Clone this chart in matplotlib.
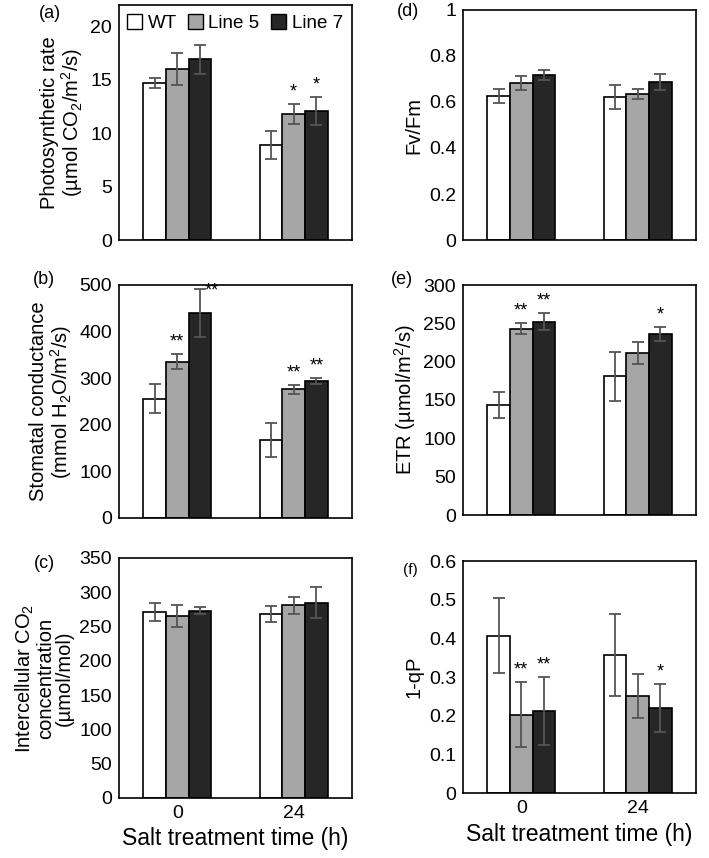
import numpy as np
import matplotlib
matplotlib.use("Agg")
import matplotlib.pyplot as plt
from matplotlib.patches import Patch

plt.rcParams['font.family'] = ['Liberation Sans', 'DejaVu Sans']
plt.rcParams['mathtext.fontset'] = 'custom'
plt.rcParams['mathtext.rm'] = 'Liberation Sans'
plt.rcParams['mathtext.it'] = 'Liberation Sans:italic'
plt.rcParams['mathtext.default'] = 'regular'

# data
times = ['0', '24']
lines = ['WT', 'Line 5', 'Line 7']
colors = ['#ffffff', '#a6a6a6', '#262626']

photo_mean = [[14.7, 8.9], [16.0, 11.8], [16.9, 12.1]]
photo_err = [[0.5, 1.3], [1.5, 0.95], [1.4, 1.3]]

stomatal_mean = [[256, 167], [335, 276], [440, 294]]
stomatal_err = [[31, 37], [16, 9], [51, 6]]

ci_mean = [[271, 268], [266, 281], [273, 285]]
ci_err = [[13, 12], [16, 12], [5, 22]]

fvfm_mean = [[0.625, 0.622], [0.684, 0.635], [0.719, 0.687]]
fvfm_err = [[0.031, 0.053], [0.030, 0.020], [0.022, 0.033]]

etr_mean = [[144, 181], [243, 211], [252, 236]]
etr_err = [[17, 32], [7, 14], [11, 9]]

qp_mean = [[0.407, 0.357], [0.203, 0.251], [0.212, 0.220]]
qp_err = [[0.097, 0.107], [0.085, 0.056], [0.089, 0.063]]

# significance marks: (series index, time index, label)
photo_sig = [(1, 1, '*'), (2, 1, '*')]
stomatal_sig = [(1, 0, '**'), (2, 0, '**'), (1, 1, '**'), (2, 1, '**')]
etr_sig = [(1, 0, '**'), (2, 0, '**'), (2, 1, '*')]
qp_sig = [(1, 0, '**'), (2, 0, '**'), (2, 1, '*')]

W, H = 709, 858
fig = plt.figure(figsize=(W / 100, H / 100), dpi=100)


def px_axes(x0, x1, y0, y1):
    return fig.add_axes([x0 / W, 1 - y1 / H, (x1 - x0) / W, (y1 - y0) / H])


def panel(ax, means, errs, ylim, yticks, ylabel, tag, tagxy, sigs=(), xlab=False,
          tagsize=13, ticklabels=None):
    x = np.arange(len(times))
    bw = 0.195
    for i in range(3):
        ax.bar(x + (i - 1) * bw, means[i], bw, color=colors[i],
               edgecolor='black', linewidth=1.2, zorder=2)
        ax.errorbar(x + (i - 1) * bw, means[i], yerr=errs[i], fmt='none',
                    ecolor='#555555', elinewidth=1.3, capsize=4, capthick=1.3,
                    zorder=3)
    for i, t, lab in sigs:
        top = means[i][t] + errs[i][t]
        dx = 0
        if ylabel.startswith('Stomatal') and i == 2 and t == 0:
            dx = 0.1
            top = top - (ylim[1] - ylim[0]) * 0.06
        ax.text(x[t] + (i - 1) * bw + dx, top + (ylim[1] - ylim[0]) * 0.015,
                lab, ha='center', va='bottom', fontsize=13)
    ax.set_xlim(-0.5, 1.5)
    ax.set_ylim(*ylim)
    ax.set_yticks(yticks)
    if ticklabels is not None:
        ax.set_yticklabels(ticklabels)
    ax.set_xticks(x)
    if xlab:
        ax.set_xticklabels(times)
        ax.set_xlabel('Salt treatment time (h)', fontsize=16.5, labelpad=4)
    else:
        ax.set_xticklabels([])
    ax.tick_params(length=0, labelsize=14, pad=5)
    for s in ax.spines.values():
        s.set_linewidth(1.2)
    ax.set_ylabel(ylabel, fontsize=14.5, linespacing=1.0)
    fig.text(tagxy[0] / W, 1 - tagxy[1] / H, tag, fontsize=tagsize,
             ha='center', va='center')


ax_a = px_axes(119, 352, 5, 240)
panel(ax_a, photo_mean, photo_err, (0, 22), [0, 5, 10, 15, 20],
      'Photosynthetic rate\n(µmol CO$_2$/m$^2$/s)', '(a)', (50, 14), photo_sig)
handles = [Patch(facecolor=c, edgecolor='black', linewidth=1.0) for c in colors]
ax_a.legend(handles, lines, loc='upper right', ncol=3, frameon=False,
            fontsize=13.5, handlelength=0.8, handleheight=0.8,
            handletextpad=0.3, columnspacing=0.6, borderaxespad=0.1,
            bbox_to_anchor=(1.0, 1.0))

ax_b = px_axes(119, 352, 285, 518)
panel(ax_b, stomatal_mean, stomatal_err, (0, 500), [0, 100, 200, 300, 400, 500],
      'Stomatal conductance\n(mmol H$_2$O/m$^2$/s)', '(b)', (44, 279), stomatal_sig)

ax_c = px_axes(119, 352, 558, 798)
panel(ax_c, ci_mean, ci_err, (0, 350), [0, 50, 100, 150, 200, 250, 300, 350],
      'Intercellular CO$_2$\nconcentration\n(µmol/mol)', '(c)', (44, 563),
      xlab=True)

ax_d = px_axes(463, 696, 10, 240)
panel(ax_d, fvfm_mean, fvfm_err, (0, 1), [0, 0.2, 0.4, 0.6, 0.8, 1.0],
      'Fv/Fm', '(d)', (408, 12),
      ticklabels=['0', '0.2', '0.4', '0.6', '0.8', '1'])

ax_e = px_axes(463, 696, 285, 515)
panel(ax_e, etr_mean, etr_err, (0, 300), [0, 50, 100, 150, 200, 250, 300],
      'ETR (µmol/m$^2$/s)', '(e)', (402, 280), etr_sig)

ax_f = px_axes(463, 696, 561, 793)
panel(ax_f, qp_mean, qp_err, (0, 0.6), [0, 0.1, 0.2, 0.3, 0.4, 0.5, 0.6],
      '1-qP', '(f)', (410, 570), qp_sig, xlab=True, tagsize=11,
      ticklabels=['0', '0.1', '0.2', '0.3', '0.4', '0.5', '0.6'])

fig.savefig('out.png', dpi=100)
